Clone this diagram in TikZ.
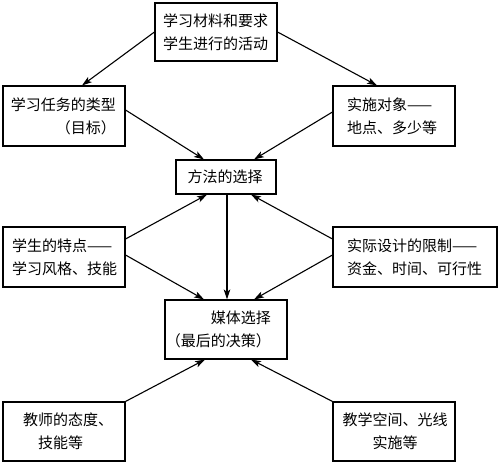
\documentclass[tikz,border=0pt]{standalone}
\usepackage{fontspec}
\newfontfamily\cjk{Noto Sans CJK SC}
\usetikzlibrary{arrows.meta}
\begin{document}
\begin{tikzpicture}[x=1pt,y=-1pt,
  box/.style={draw, line width=1.1pt, inner sep=0pt},
  txt/.style={inner sep=0pt, font=\cjk\fontsize{15}{23}\selectfont},
  arr/.style={line width=1.1pt, -{Stealth[length=10pt,width=6.5pt,inset=2.5pt]}}]
\useasboundingbox[fill=white] (0,0) rectangle (500,464);
% boxes
\node[box, minimum width=122pt, minimum height=58pt] (top) at (216,32) {};
\node[txt, align=left, anchor=west] (topt) at (163,32) {学习材料和要求\\学生进行的活动};
\node[box, minimum width=122pt, minimum height=60pt] (a) at (64,116) {};
\node[txt, align=right, anchor=east] (at) at (116,116) {学习任务的类型\\（目标）};
\node[box, minimum width=122pt, minimum height=60pt] (b) at (394,116) {};
\node[txt, align=left, anchor=west] (bt) at (347,116) {实施对象——\\地点、多少等};
\node[box, minimum width=100pt, minimum height=34pt] (m) at (226,177) {};
\node[txt] (mt) at (225,177) {方法的选择};
\node[box, minimum width=122pt, minimum height=60pt] (c) at (64,257) {};
\node[txt, align=left, anchor=west] (ct) at (12,257) {学生的特点——\\学习风格、技能};
\node[box, minimum width=164pt, minimum height=60pt] (d) at (415,257) {};
\node[txt, align=left, anchor=west] (dt) at (347,257) {实际设计的限制——\\资金、时间、可行性};
\node[box, minimum width=122pt, minimum height=59pt] (media) at (226,329.5) {};
\node[txt, align=right, anchor=east] (mediat) at (271,329.5) {媒体选择\\（最后的决策）};
\node[box, minimum width=122pt, minimum height=59pt] (e) at (64,431.5) {};
\node[txt, align=left, anchor=west] (et) at (23,431.5) {教师的态度、\\\hspace*{1em}技能等};
\node[box, minimum width=122pt, minimum height=59pt] (f) at (394,431.5) {};
\node[txt, align=center] (ft) at (395,431.5) {教学空间、光线\\实施等};
% arrows
\draw[arr] (top.west) -- ([xshift=18pt]a.north);
\draw[arr] (top.east) -- ([xshift=-17pt]b.north);
\draw[arr] ([yshift=6pt]a.east) -- ([xshift=-22pt]m.north);
\draw[arr] ([yshift=4pt]b.west) -- ([xshift=28pt]m.north);
\draw[arr] ([yshift=18pt]c.east) -- ([xshift=-19pt]m.south);
\draw[arr] ([yshift=18pt]d.west) -- ([xshift=25pt]m.south);
\draw[arr] ([xshift=1pt]m.south) -- ([xshift=1pt]media.north);
\draw[arr] ([yshift=2pt]c.east) -- ([xshift=-22pt]media.north);
\draw[arr] ([yshift=2pt]d.west) -- ([xshift=28pt]media.north);
\draw[arr] (e.north east) -- ([xshift=-21pt]media.south);
\draw[arr] (f.north west) -- ([xshift=25pt]media.south);
\end{tikzpicture}
\end{document}
